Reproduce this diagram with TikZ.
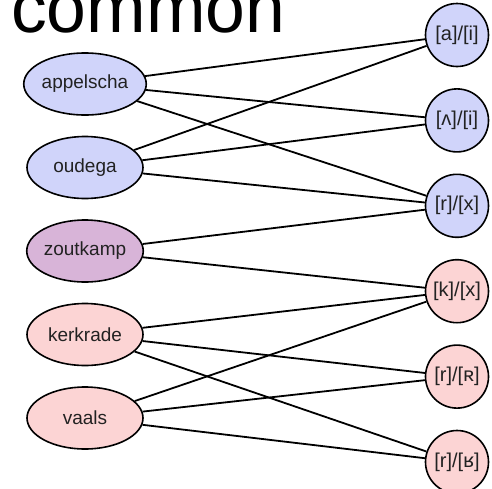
\documentclass[tikz,border=0pt]{standalone}
\usepackage{fontspec}
\setmainfont{Liberation Sans}
\usetikzlibrary{shapes.geometric}
\definecolor{bleu}{RGB}{208,212,250}
\definecolor{rose}{RGB}{252,212,212}
\definecolor{mauve}{RGB}{216,180,216}
\definecolor{texte}{RGB}{34,34,34}
\begin{document}
\begin{tikzpicture}[x=1pt,y=-1pt]
% Styles (MODIFIABLES)
\tikzstyle{arete}=[line width=1.8pt]
\tikzstyle{ville}=[ellipse,draw,line width=1.6pt,minimum width=116pt,minimum height=62pt,inner sep=0pt,font=\fontsize{19}{22}\selectfont,text=texte]
\tikzstyle{son}=[circle,draw,line width=1.6pt,minimum size=63pt,inner sep=0pt,font=\fontsize{20}{22}\selectfont,text=texte]
% Dimensions (MODIFIABLES)
\def\ColonneVilles{85}
\def\ColonneSons{457}
\def\PremiereVille{84}
\def\EcartVilles{83.5}
\def\PremierSon{35}
\def\EcartSons{85.4}
% Cadre
\useasboundingbox (0,0) rectangle (492,488);
% Titre
\node[anchor=base west,inner sep=0pt,font=\fontsize{71.5}{80}\selectfont] (titre) at (11,32) {common};
% Noeuds : villes
\node[ville,fill=bleu] (appelscha) at ({\ColonneVilles},{\PremiereVille+0*\EcartVilles}) {appelscha};
\node[ville,fill=bleu] (oudega) at ({\ColonneVilles},{\PremiereVille+1*\EcartVilles}) {oudega};
\node[ville,fill=mauve] (zoutkamp) at ({\ColonneVilles},{\PremiereVille+2*\EcartVilles}) {zoutkamp};
\node[ville,fill=rose] (kerkrade) at ({\ColonneVilles},{\PremiereVille+3*\EcartVilles}) {kerkrade};
\node[ville,fill=rose] (vaals) at ({\ColonneVilles},{\PremiereVille+4*\EcartVilles}) {vaals};
% Noeuds : sons
\node[son,fill=bleu] (ai) at ({\ColonneSons},{\PremierSon+0*\EcartSons}) {[a]/[i]};
\node[son,fill=bleu] (vi) at ({\ColonneSons},{\PremierSon+1*\EcartSons}) {[ʌ]/[i]};
\node[son,fill=bleu] (rx) at ({\ColonneSons},{\PremierSon+2*\EcartSons}) {[r]/[x]};
\node[son,fill=rose] (kx) at ({\ColonneSons},{\PremierSon+3*\EcartSons}) {[k]/[x]};
\node[son,fill=rose] (rR) at ({\ColonneSons},{\PremierSon+4*\EcartSons}) {[r]/[ʀ]};
\node[son,fill=rose] (rRi) at ({\ColonneSons},{\PremierSon+5*\EcartSons}) {[r]/[ʁ]};
% Arcs
\draw[arete] (appelscha)--(ai);
\draw[arete] (appelscha)--(vi);
\draw[arete] (appelscha)--(rx);
\draw[arete] (oudega)--(ai);
\draw[arete] (oudega)--(vi);
\draw[arete] (oudega)--(rx);
\draw[arete] (zoutkamp)--(rx);
\draw[arete] (zoutkamp)--(kx);
\draw[arete] (kerkrade)--(kx);
\draw[arete] (kerkrade)--(rR);
\draw[arete] (kerkrade)--(rRi);
\draw[arete] (vaals)--(kx);
\draw[arete] (vaals)--(rR);
\draw[arete] (vaals)--(rRi);
\end{tikzpicture}
\end{document}
